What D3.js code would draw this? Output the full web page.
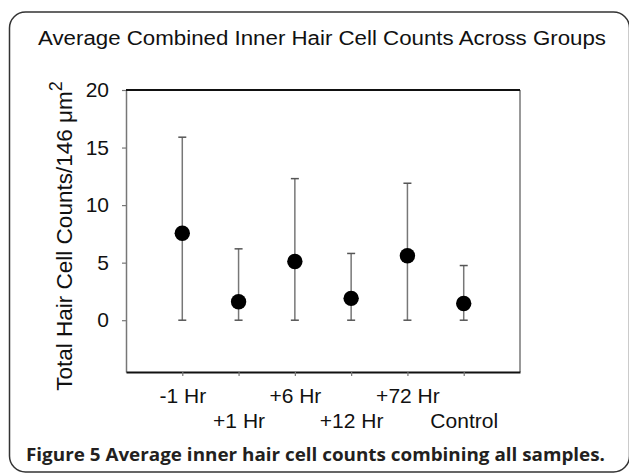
<!DOCTYPE html>
<html>
<head>
<meta charset="utf-8">
<script src="https://cdn.jsdelivr.net/npm/d3@7"></script>
<style>
  body { margin: 0; background: #fff; }
  svg { display: block; }
  .arial { font-family: "Liberation Sans", Arimo, Arial, sans-serif; }
</style>
</head>
<body>
<svg id="chart" width="629" height="474"></svg>
<script>
const groups = ["-1 Hr", "+1 Hr", "+6 Hr", "+12 Hr", "+72 Hr", "Control"];
const means = [7.55, 1.6, 5.1, 1.9, 5.6, 1.45];
const upper = [15.9, 6.2, 12.3, 5.8, 11.9, 4.75];
const lower = [0, 0, 0, 0, 0, 0];
const yTicks = [0, 5, 10, 15, 20];

const svg = d3.select("#chart");

// outer rounded frame of the figure
svg.append("rect")
    .attr("x", 9.5).attr("y", 12)
    .attr("width", 620).attr("height", 460)
    .attr("rx", 16)
    .attr("fill", "none")
    .attr("stroke", "#333")
    .attr("stroke-width", 1.5);

svg.append("text")
    .attr("class", "arial")
    .attr("x", 38).attr("y", 45)
    .attr("font-size", 20)
    .attr("textLength", 568)
    .attr("lengthAdjust", "spacingAndGlyphs")
    .attr("fill", "#111")
    .text("Average Combined Inner Hair Cell Counts Across Groups");

const x = d3.scaleLinear().domain([0, 7]).range([126, 520]);
const y = d3.scaleLinear().domain([-4.5, 20]).range([372, 90]);

const data = groups.map((g, i) => ({ g, i: i + 1, m: means[i], hi: upper[i], lo: lower[i] }));

// y axis
const yAxis = svg.append("g")
    .attr("transform", `translate(${x(0)},0)`)
    .call(d3.axisLeft(y).tickValues(yTicks).tickSize(4).tickSizeOuter(0).tickPadding(13));
yAxis.attr("font-family", null);
yAxis.select(".domain").attr("stroke", "#777").attr("stroke-width", 1.5);
yAxis.selectAll(".tick line").attr("stroke", "#777").attr("stroke-width", 1.2);
yAxis.selectAll(".tick text")
    .attr("class", "arial")
    .attr("font-size", 21)
    .attr("fill", "#111");

// right and top lines
svg.append("line")
    .attr("x1", x(7)).attr("x2", x(7))
    .attr("y1", y(20)).attr("y2", y(-4.5))
    .attr("stroke", "#777").attr("stroke-width", 1.5);
svg.append("line")
    .attr("x1", x(0)).attr("x2", x(7))
    .attr("y1", y(20)).attr("y2", y(20))
    .attr("stroke", "#111").attr("stroke-width", 2);

// x axis
const xAxis = svg.append("g")
    .attr("transform", `translate(0,${y(-4.5)})`)
    .call(d3.axisBottom(x).tickValues(data.map(d => d.i))
        .tickFormat(v => groups[v - 1]).tickSize(4).tickSizeOuter(0).tickPadding(10));
xAxis.attr("font-family", null);
xAxis.select(".domain").attr("stroke", "#111").attr("stroke-width", 2);
xAxis.selectAll(".tick line").attr("stroke", "#777").attr("stroke-width", 1.2);
xAxis.selectAll(".tick text")
    .attr("class", "arial")
    .attr("font-size", 21)
    .attr("fill", "#111")
    .attr("dy", null)
    .attr("y", (v, i) => i % 2 === 0 ? 31 : 56);

// error bars
const bars = svg.append("g").selectAll("g").data(data).join("g");
bars.append("line")
    .attr("x1", d => x(d.i)).attr("x2", d => x(d.i))
    .attr("y1", d => y(d.hi)).attr("y2", d => y(d.lo))
    .attr("stroke", "#777").attr("stroke-width", 1.5);
bars.selectAll(".cap").data(d => [[d.i, d.hi], [d.i, d.lo]]).join("line")
    .attr("class", "cap")
    .attr("x1", c => x(c[0]) - 4).attr("x2", c => x(c[0]) + 4)
    .attr("y1", c => y(c[1])).attr("y2", c => y(c[1]))
    .attr("stroke", "#555").attr("stroke-width", 1.5);

svg.append("g").selectAll("circle").data(data).join("circle")
    .attr("cx", d => x(d.i))
    .attr("cy", d => y(d.m))
    .attr("r", 7.7)
    .attr("fill", "#000");

// y axis title
const yt = svg.append("text")
    .attr("class", "arial")
    .attr("transform", "translate(72,236) rotate(-90)")
    .attr("text-anchor", "middle")
    .attr("font-size", 22.5)
    .attr("fill", "#111");
yt.append("tspan").text("Total Hair Cell Counts/146 \u03bcm");
yt.append("tspan").attr("dy", -10).attr("font-size", 18).text("2");

// figure caption
svg.append("text")
    .attr("x", 26).attr("y", 461)
    .attr("font-family", "'Open Sans', sans-serif")
    .attr("font-weight", "bold")
    .attr("font-size", 17)
    .attr("textLength", 579)
    .attr("lengthAdjust", "spacingAndGlyphs")
    .attr("fill", "#231f20")
    .text("Figure 5 Average inner hair cell counts combining all samples.");
</script>
</body>
</html>
